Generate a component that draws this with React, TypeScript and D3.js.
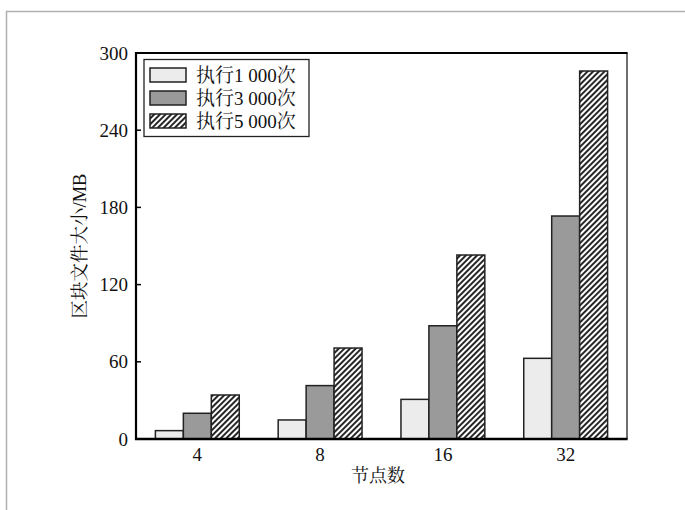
import React, { useEffect, useRef } from "react";
import * as d3 from "d3";

const categories = ["4", "8", "16", "32"];
const seriesNames = ["执行1 000次", "执行3 000次", "执行5 000次"];
const run1000 = [6.5, 14.8, 30.8, 62.7];
const run3000 = [20, 41.5, 88, 173.3];
const run5000 = [34.2, 70.7, 143, 286];
const yTicks = [0, 60, 120, 180, 240, 300];

const W = 685;
const H = 510;
const M = { left: 136, right: 627, top: 53, bottom: 439 };
const FONT = "'Liberation Serif', 'Times New Roman', 'Noto Serif CJK SC', 'Noto Sans CJK SC', serif";

export default function App() {
  const ref = useRef<SVGSVGElement>(null);
  useEffect(() => {
    const svg = d3.select(ref.current);
    svg.selectAll("*").remove();

    const defs = svg.append("defs");
    const P = 4;
    const pat = defs
      .append("pattern")
      .attr("id", "hatch")
      .attr("patternUnits", "userSpaceOnUse")
      .attr("width", P)
      .attr("height", P)
      .attr("patternTransform", "rotate(45)");
    pat.append("rect").attr("width", P).attr("height", P).attr("fill", "#fff");
    pat.append("line").attr("x1", P / 2).attr("y1", 0).attr("x2", P / 2).attr("y2", P)
      .attr("stroke", "#000").attr("stroke-width", 1.7);

    const fills = ["#ececec", "#9a9a9a", "url(#hatch)"];
    const data = [run1000, run3000, run5000];

    // outer gray frame
    svg.append("line").attr("x1", 6).attr("y1", 11.5).attr("x2", W).attr("y2", 11.5)
      .attr("stroke", "#b0b0b0").attr("stroke-width", 1.5);
    svg.append("line").attr("x1", 6.5).attr("y1", 11).attr("x2", 6.5).attr("y2", H)
      .attr("stroke", "#b0b0b0").attr("stroke-width", 1.5);

    const x = d3.scaleBand<string>().domain(categories).range([M.left, M.right]).paddingInner(0.317).paddingOuter(0.158);
    const xs = d3.scaleBand<number>().domain([0, 1, 2]).range([0, x.bandwidth()]);
    const y = d3.scaleLinear().domain([0, 300]).range([M.bottom, M.top]);

    // bars
    data.forEach((vals, si) => {
      svg.append("g").selectAll("rect").data(vals).join("rect")
        .attr("x", (_, i) => (x(categories[i]) as number) + (xs(si) as number))
        .attr("y", (d) => y(d))
        .attr("width", xs.bandwidth())
        .attr("height", (d) => M.bottom - y(d))
        .attr("fill", fills[si])
        .attr("stroke", "#222")
        .attr("stroke-width", 1.5);
    });

    // frame
    svg.append("line").attr("x1", M.right).attr("y1", M.top).attr("x2", M.right).attr("y2", M.bottom)
      .attr("stroke", "#222").attr("stroke-width", 1.3);
    svg.append("line").attr("x1", M.left - 1).attr("y1", M.top).attr("x2", M.right + 0.6).attr("y2", M.top)
      .attr("stroke", "#000").attr("stroke-width", 2.2);
    svg.append("line").attr("x1", M.left - 1).attr("y1", M.bottom).attr("x2", M.right + 0.6).attr("y2", M.bottom)
      .attr("stroke", "#000").attr("stroke-width", 2.5);
    svg.append("line").attr("x1", M.left).attr("y1", M.top - 1).attr("x2", M.left).attr("y2", M.bottom + 1)
      .attr("stroke", "#000").attr("stroke-width", 2.2);

    // y ticks
    const yt = svg.append("g");
    yTicks.forEach((t) => {
      yt.append("line").attr("x1", M.left).attr("x2", M.left + 5).attr("y1", y(t)).attr("y2", y(t))
        .attr("stroke", "#000").attr("stroke-width", 1.5);
      yt.append("text").attr("x", M.left - 8).attr("y", y(t)).attr("dy", "0.35em")
        .attr("text-anchor", "end").attr("font-family", FONT).attr("font-size", 19).attr("fill", "#111")
        .text(String(t));
    });

    // x labels
    categories.forEach((c) => {
      svg.append("text").attr("x", (x(c) as number) + x.bandwidth() / 2).attr("y", M.bottom + 22)
        .attr("text-anchor", "middle").attr("font-family", FONT).attr("font-size", 19).attr("fill", "#111")
        .text(c);
    });

    svg.append("text").attr("x", 378).attr("y", 482).attr("text-anchor", "middle")
      .attr("font-family", FONT).attr("font-size", 18).attr("fill", "#111").text("节点数");

    svg.append("text").attr("transform", `translate(86, 246) rotate(-90)`).attr("text-anchor", "middle")
      .attr("font-family", FONT).attr("font-size", 18.5).attr("fill", "#111").text("区块文件大小/MB");

    // legend
    const lg = svg.append("g");
    lg.append("rect").attr("x", 144).attr("y", 59.5).attr("width", 165).attr("height", 77)
      .attr("fill", "#fff").attr("stroke", "#222").attr("stroke-width", 1.3);
    seriesNames.forEach((n, i) => {
      const cy = 75 + i * 23;
      lg.append("rect").attr("x", 150).attr("y", cy - 7).attr("width", 36).attr("height", 14)
        .attr("fill", fills[i]).attr("stroke", "#222").attr("stroke-width", 1.5);
      lg.append("text").attr("x", 196).attr("y", cy).attr("dy", "0.36em")
        .attr("font-family", FONT).attr("font-size", 19).attr("fill", "#111").text(n);
    });
  }, []);

  return (
    <div style={{ position: "absolute", left: 0, top: 0 }}>
      <svg ref={ref} width={W} height={H} style={{ display: "block", background: "#fff" }} />
    </div>
  );
}
